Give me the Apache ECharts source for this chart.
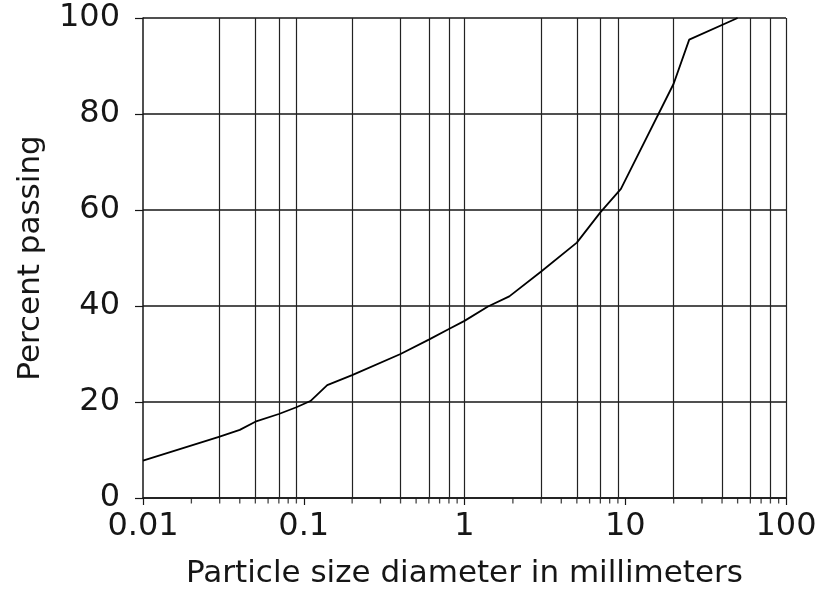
<!DOCTYPE html>
<html>
<head>
<meta charset="utf-8">
<script src="https://cdn.jsdelivr.net/npm/echarts@6/dist/echarts.min.js"></script>
<style>
    html,body{margin:0;padding:0;background:#fff;}
    #chart{width:820px;height:601px;}
</style>
</head>
<body>
<div id="chart"></div>
<script>
// 粒径 (mm) 与通过百分比
var sizes=[0.01,0.03,0.04,0.05,0.07,0.09,0.11,0.14,0.2,0.4,0.6,0.8,1,1.4,1.9,3,5,7,9.4,20,25,50];
var passing=[7.8,12.8,14.2,15.9,17.5,18.9,20.2,23.5,25.6,30,33,35.2,36.9,39.9,42,47.2,53.2,59.5,64.4,86.3,95.5,100];

// 竖向网格线所在粒径
var gridSizes=[0.03,0.05,0.07,0.09,0.2,0.4,0.6,0.8,1,3,5,7,9,20,40,60,80,100];
// 对数轴次刻度
var minorTicks=[0.02,0.03,0.04,0.05,0.06,0.07,0.08,0.09,
    0.2,0.3,0.4,0.5,0.6,0.7,0.8,0.9,
    2,3,4,5,6,7,8,9,
    20,30,40,50,60,70,80,90];
var xTickLabels=['0.01','0.1','1','10','100'];
var yTicks=[0,20,40,60,80,100];

var font='DejaVu Sans';
var ink='#161616';

function buildOption() {
    var curve=[];
    for(var i=0;i<sizes.length;i++){
        curve.push([sizes[i],passing[i]]);
    }
    var vLines=[];
    for(var i=0;i<gridSizes.length;i++){
        vLines.push({xAxis:gridSizes[i]});
    }
    var minor=[];
    for(var i=0;i<minorTicks.length;i++){
        minor.push([minorTicks[i],0]);
    }

    return {
        animation:false,
        backgroundColor:'#fff',
        grid:{left:143,right:34,top:18,bottom:103,containLabel:false},
        xAxis:{
            type:'log',
            logBase:10,
            min:0.01,
            max:100,
            name:'Particle size diameter in millimeters',
            nameLocation:'middle',
            nameGap:60,
            nameTextStyle:{fontFamily:font,fontSize:31,color:ink},
            axisLine:{show:true,lineStyle:{color:ink,width:1.5}},
            axisTick:{show:true,length:7,lineStyle:{color:ink,width:1.2}},
            axisLabel:{
                margin:13,
                fontFamily:font,fontSize:32,color:ink,
                formatter:function (v) {
                    var idx=Math.round(Math.log(v)/Math.LN10)+2;
                    return xTickLabels[idx]!=null?xTickLabels[idx]:'';
                }
            },
            splitLine:{show:false},
            minorTick:{show:false},
            minorSplitLine:{show:false}
        },
        yAxis:{
            type:'value',
            min:yTicks[0],
            max:yTicks[yTicks.length-1],
            interval:20,
            name:'Percent passing',
            nameLocation:'middle',
            nameRotate:90,
            nameGap:97,
            nameTextStyle:{fontFamily:font,fontSize:31,color:ink},
            axisLine:{show:true,lineStyle:{color:ink,width:1.5}},
            axisTick:{show:true,length:8,lineStyle:{color:ink,width:1.2}},
            axisLabel:{margin:23,fontFamily:font,fontSize:32,color:ink},
            splitLine:{show:true,lineStyle:{color:ink,width:1.5}}
        },
        series:[
            {
                type:'line',
                data:curve,
                symbol:'none',
                lineStyle:{color:'#000',width:1.8},
                z:5,
                markLine:{
                    silent:true,
                    symbol:['none','none'],
                    label:{show:false},
                    lineStyle:{color:'#222',width:1.2,type:'solid'},
                    emphasis:{disabled:true},
                    data:vLines
                }
            },
            {
                type:'scatter',
                data:minor,
                symbol:'rect',
                symbolSize:[1.3,5],
                symbolOffset:[0,3],
                clip:false,
                silent:true,
                itemStyle:{color:ink}
            }
        ]
    };
}

var myChart=echarts.init(document.getElementById('chart'));
myChart.setOption(buildOption());
</script>
</body>
</html>
